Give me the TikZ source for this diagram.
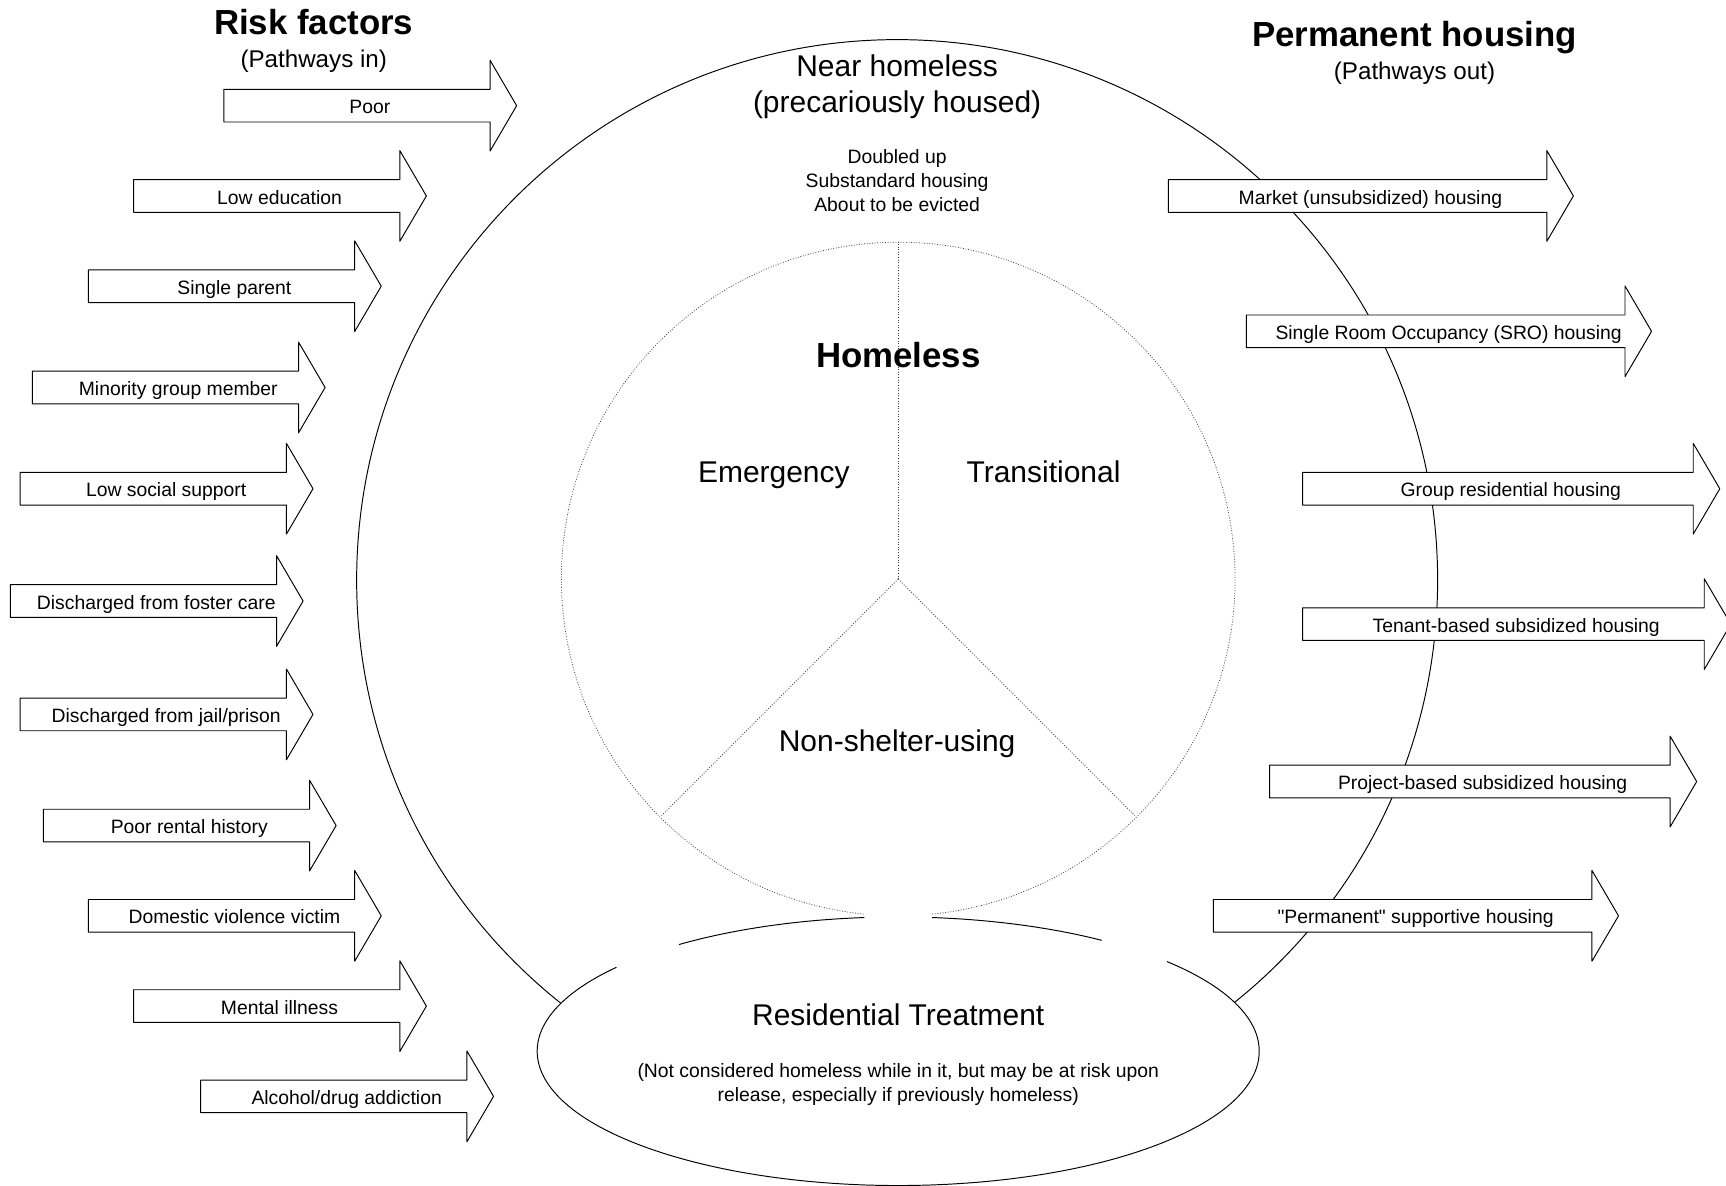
\documentclass[tikz,border=0pt]{standalone}
\usepackage{fontspec}
\setmainfont{Liberation Sans}[Ligatures=TeXOff]
\usetikzlibrary{shapes.arrows}

\begin{document}
\begin{tikzpicture}[x=0.02cm,y=0.02cm,line join=round,line width=0.5pt,font=\fontsize{10}{12.5}\selectfont]
	\tikzset{
		pathway/.style={single arrow,draw,fill=white,single arrow tip angle=119.3,
			single arrow head extend=15pt,text height=9.2pt,text depth=0.8pt,
			inner xsep=0pt,inner ysep=3.2pt,minimum height=#1*0.02cm},
		heading/.style={font=\fontsize{18}{21}\selectfont\bfseries},
		subheading/.style={font=\fontsize{12.5}{15}\selectfont},
		bigtext/.style={font=\fontsize{15.5}{18.7}\selectfont,align=center},
		smalltext/.style={align=center},
		dotline/.style={line width=0.4pt,black!75,dash pattern=on 0.45pt off 0.9pt}
	}
	\useasboundingbox (0,0) rectangle (1568,-1077);
	% outer ring and residential treatment
	\coordinate (ring) at (815,-527);
	\coordinate (rt) at (816,-955);
	\draw (ring) circle[radius=491];
	\fill[white] (rt) ellipse[x radius=328,y radius=122];
	\draw ([shift={(141.3:328 and 122)}]rt) arc[start angle=141.3,end angle=401.9,x radius=328,y radius=122];
	\draw ([shift={(55.7:328 and 122)}]rt) arc[start angle=55.7,end angle=84.6,x radius=328,y radius=122];
	\draw ([shift={(95.4:328 and 122)}]rt) arc[start angle=95.4,end angle=127.4,x radius=328,y radius=122];
	% homeless circle
	\coordinate (hub) at (816,-526);
	\draw[dotline] ([shift={(-84.2:306)}]hub) arc[start angle=-84.2,end angle=264.2,radius=306];
	\draw[dotline] (hub) -- ++(90:306);
	\draw[dotline] (hub) -- ++(225:304);
	\draw[dotline] (hub) -- ++(315:304);
	% texts
	\node[heading] (risk) at (285,-20) {Risk factors};
	\node[subheading] (riskin) at (285,-56) {(Pathways in)};
	\node[heading] (perm) at (1285,-34) {Permanent housing};
	\node[subheading] (permout) at (1285,-67) {(Pathways out)};
	\node[bigtext] (near) at (815,-79) {Near homeless\\(precariously housed)};
	\node[smalltext] (nearkinds) at (815,-164) {Doubled up\\Substandard housing\\About to be evicted};
	\node[heading] (homeless) at (816,-323) {Homeless};
	\node[bigtext,anchor=base] (emerg) at (703,-438) {Emergency};
	\node[bigtext,anchor=base] (trans) at (948,-438) {Transitional};
	\node[bigtext,anchor=base] (nonshelter) at (815,-683) {Non-shelter-using};
	\node[bigtext] (resid) at (816,-922) {Residential Treatment};
	\node[smalltext] (residnote) at (816,-985) {(Not considered homeless while in it, but may be at risk upon\\release, especially if previously homeless)};
	% pathways in
	\foreach \n/\x/\y/\t in {poor/332/96/Poor, lowedu/250/178/Low education,
		single/209/260/Single parent, minority/158/352/Minority group member,
		support/147/444/Low social support, foster/138/546/Discharged from foster care,
		jail/147/649/{Discharged from jail/prison}, rental/168/750/Poor rental history,
		violence/209/832/Domestic violence victim, mental/250/914/Mental illness,
		addict/311/996/{Alcohol/drug addiction}}
	\node[pathway=266] (\n) at (\x,-\y) {\hspace*{4.5pt}\t};
	% pathways out
	\foreach \n/\x/\y/\l/\t in {market/1241/178/368/Market (unsubsidized) housing,
		sro/1312/301/368/Single Room Occupancy (SRO) housing,
		group/1368.5/444/379/Group residential housing,
		tenant/1373.5/567/389/Tenant-based subsidized housing,
		project/1343/710/388/Project-based subsidized housing,
		support/1282/832/368/"Permanent" supportive housing}
	\node[pathway=\l] (out-\n) at (\x,-\y) {\hspace*{4.5pt}\t};
\end{tikzpicture}
\end{document}
